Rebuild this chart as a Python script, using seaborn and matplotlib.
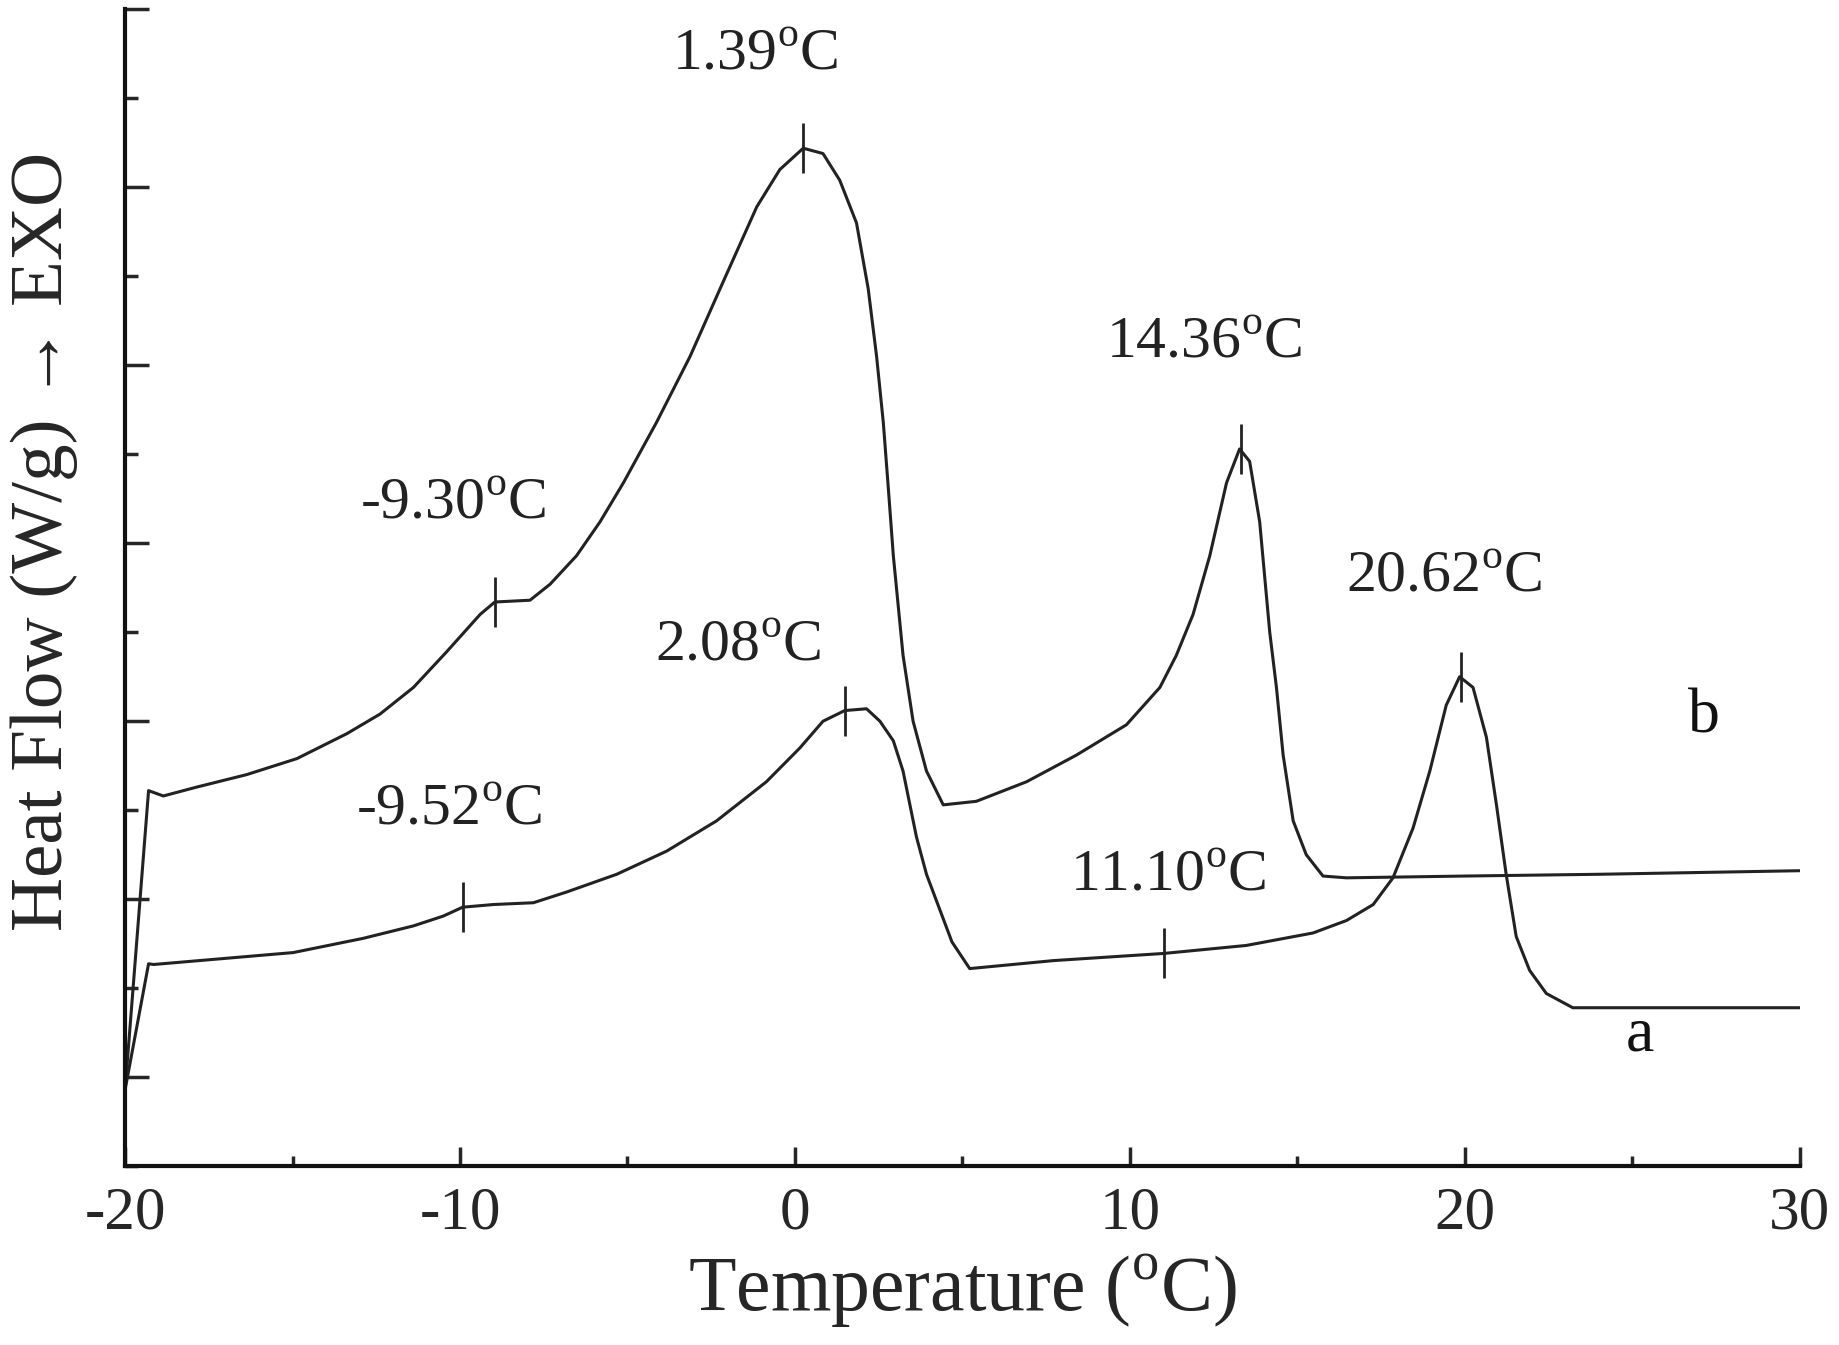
import numpy as np
import pandas as pd
import seaborn as sns
import matplotlib
matplotlib.use('Agg')
import matplotlib.pyplot as plt
from matplotlib.ticker import MultipleLocator

# DSC curves (arbitrary heat-flow units)
temp_b = [-20.0, -19.30, -18.86, -17.86, -16.37, -14.87, -13.38, -12.39, -11.39, -10.40,
          -9.40, -8.96, -7.91, -7.31, -6.52, -5.82, -5.12, -4.13, -3.13, -2.14,
          -1.14, -0.45, 0.25, 0.84, 1.34, 1.84, 2.19, 2.44, 2.64, 2.79,
          2.94, 3.23, 3.53, 3.93, 4.43, 5.42, 6.92, 8.41, 9.90, 10.90,
          11.39, 11.89, 12.39, 12.89, 13.28, 13.58, 13.88, 14.18, 14.38, 14.58,
          14.88, 15.27, 15.77, 16.47, 20.0, 24.03, 30.0]
flow_b = [-0.07, 1.61, 1.58, 1.63, 1.70, 1.79, 1.93, 2.04, 2.19, 2.39,
          2.60, 2.67, 2.68, 2.77, 2.93, 3.12, 3.34, 3.68, 4.05, 4.47,
          4.89, 5.10, 5.22, 5.19, 5.04, 4.80, 4.43, 4.05, 3.68, 3.31,
          2.93, 2.37, 2.00, 1.72, 1.53, 1.55, 1.66, 1.81, 1.98, 2.19,
          2.37, 2.60, 2.93, 3.34, 3.53, 3.46, 3.12, 2.50, 2.19, 1.81,
          1.44, 1.25, 1.13, 1.12, 1.13, 1.14, 1.16]

temp_a = [-20.0, -19.30, -19.15, -14.98, -12.89, -11.39, -10.50, -9.92, -9.0, -7.81,
          -6.82, -5.32, -3.83, -2.34, -0.85, 0.15, 0.84, 1.49, 2.14, 2.54,
          2.94, 3.23, 3.63, 3.93, 4.69, 5.22, 7.73, 11.01, 13.48, 15.47,
          16.47, 17.27, 17.86, 18.46, 18.96, 19.45, 19.85, 20.25, 20.65, 20.95,
          21.24, 21.54, 21.94, 22.44, 23.23, 30.0]
flow_a = [-0.07, 0.637, 0.633, 0.70, 0.78, 0.85, 0.905, 0.955, 0.97, 0.98,
          1.04, 1.14, 1.27, 1.44, 1.66, 1.85, 2.00, 2.06, 2.07, 2.00,
          1.89, 1.72, 1.35, 1.14, 0.76, 0.61, 0.655, 0.695, 0.74, 0.81,
          0.88, 0.97, 1.12, 1.40, 1.72, 2.09, 2.25, 2.19, 1.91, 1.53,
          1.14, 0.79, 0.60, 0.47, 0.39, 0.39]

# marked transition points
mark_b_t = [-8.96, 0.25, 13.33]
mark_b_y = [2.67, 5.22, 3.53]
mark_a_t = [-9.92, 1.49, 11.01, 19.88]
mark_a_y = [0.955, 2.06, 0.695, 2.25]

# annotation labels and where they sit
ann_text = ['1.39', '-9.30', '14.36', '20.62', '2.08', '-9.52', '11.10']
ann_t = [-1.19, -10.21, 12.21, 19.37, -1.69, -10.33, 11.13]
ann_y = [5.74, 3.22, 4.12, 2.81, 2.42, 1.50, 1.13]

df = pd.concat([
    pd.DataFrame({'T': temp_a, 'HF': flow_a, 'run': 'a'}),
    pd.DataFrame({'T': temp_b, 'HF': flow_b, 'run': 'b'}),
])

sns.set_style('white')
plt.rcParams['font.family'] = ['Liberation Serif', 'DejaVu Serif']
plt.rcParams['mathtext.fontset'] = 'custom'
plt.rcParams['mathtext.rm'] = 'Liberation Serif'
plt.rcParams['axes.unicode_minus'] = False

fig = plt.figure(figsize=(18.4, 13.45), dpi=100)
ax = fig.add_axes([0.068, 0.133, 0.910, 0.860])

sns.lineplot(data=df, x='T', y='HF', units='run', estimator=None, sort=False,
             color='#222222', linewidth=2.2, ax=ax)
ax.plot(mark_b_t, mark_b_y, ls='none', marker='|', markersize=36, mew=2, color='#222222')
ax.plot(mark_a_t, mark_a_y, ls='none', marker='|', markersize=36, mew=2, color='#222222')

for s, t, y in zip(ann_text, ann_t, ann_y):
    ax.text(t, y, s + r'$^{\rm o}$C', ha='center', va='center', fontsize=43, color='#222222')

ax.text(27.16, 2.02, 'b', ha='center', va='center', fontsize=46, color='#111111')
ax.text(25.22, 0.235, 'a', ha='center', va='center', fontsize=46, color='#111111')

ax.set_xlim(-20, 30)
ax.set_ylim(-0.5, 6)
ax.xaxis.set_major_locator(MultipleLocator(10))
ax.xaxis.set_minor_locator(MultipleLocator(5))
ax.yaxis.set_major_locator(MultipleLocator(1))
ax.yaxis.set_minor_locator(MultipleLocator(0.5))
ax.tick_params(axis='x', which='major', direction='in', length=14, width=2.5, labelsize=44, pad=14)
ax.tick_params(axis='x', which='minor', direction='in', length=7, width=2.5)
ax.tick_params(axis='y', which='major', direction='in', length=17, width=2.5, labelleft=False)
ax.tick_params(axis='y', which='minor', direction='in', length=9, width=2.5)
ax.tick_params(bottom=True, left=True, which='both')

for side in ['top', 'right']:
    ax.spines[side].set_visible(False)
for side in ['left', 'bottom']:
    ax.spines[side].set_linewidth(3)
    ax.spines[side].set_color('#111111')

ax.set_xlabel(r'Temperature ($^{\rm o}$C)', fontsize=56, labelpad=8)
ax.set_ylabel('Heat Flow (W/g) → EXO', fontsize=54)
ax.yaxis.set_label_coords(-0.028, 0.54)

fig.savefig('out.png', dpi=100)
